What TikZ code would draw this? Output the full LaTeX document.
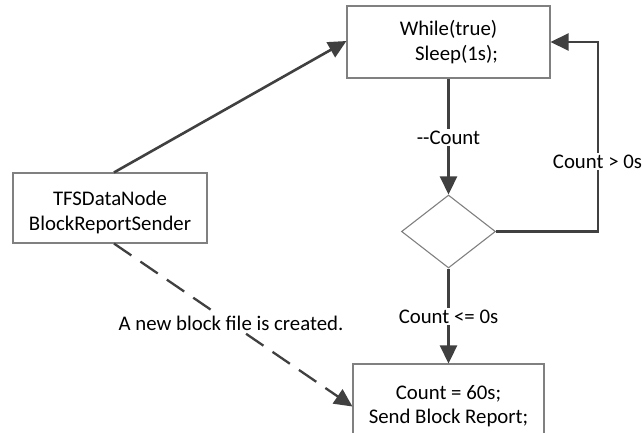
\documentclass[tikz,border=0pt]{standalone}
\usepackage{fontspec}
\setmainfont{Carlito}
\usetikzlibrary{arrows.meta,shapes.geometric}
\definecolor{conn}{HTML}{404040}
\definecolor{boxline}{HTML}{808080}
\begin{document}
\begin{tikzpicture}[x=1pt,y=-1pt,
  txt/.style={font=\fontsize{20.8}{24.5}\selectfont},
  box/.style={draw=boxline, line width=1.1pt, rectangle, align=center, inner sep=0pt, txt},
  dec/.style={draw=boxline, line width=1.1pt, diamond, inner sep=0pt, minimum width=94pt, minimum height=73pt},
  flow/.style={draw=conn, line width=2.6pt, -{Triangle[length=18pt,width=17pt]}},
  dflow/.style={flow, line width=2.3pt, dash pattern=on 21pt off 11pt},
  lbl/.style={fill=white, inner sep=2pt, anchor=base, txt},
]
\useasboundingbox (0,0) rectangle (642,433);
\node[box, minimum width=203pt, minimum height=72pt] (loop) at (448.5,42) {While(true)\\\hspace*{16pt}Sleep(1s);};
\node[box, minimum width=194pt, minimum height=70pt] (sender) at (110,208) {\rule{0pt}{23pt}TFSDataNode\\BlockReportSender};
\node[dec] (check) at (448.5,231.5) {};
\node[box, minimum width=191pt, minimum height=77pt] (report) at (448.5,402.5) {\rule{0pt}{21pt}Count = 60s;\\Send Block Report;};
\coordinate (corner) at (598,231.5);

\draw[flow] ([xshift=4pt]sender.north) -- ([yshift=1pt]loop.west);
\draw[flow] (loop.south) -- (check.north);
\draw[flow] (check.south) -- (report.north);
\draw[flow] (check.east) -- (corner) |- (loop.east);
\draw[dflow] ([xshift=4pt]sender.south) -- ([yshift=-4pt]report.west);

\node[lbl] (dec1) at (448.5,144) {-{}-Count};
\node[lbl] (gt) at (597.5,168) {Count > 0s};
\node[lbl] (le) at (448.5,323) {Count <= 0s};
\node[lbl] (newfile) at (231,330) {A new block file is created.};
\end{tikzpicture}
\end{document}
